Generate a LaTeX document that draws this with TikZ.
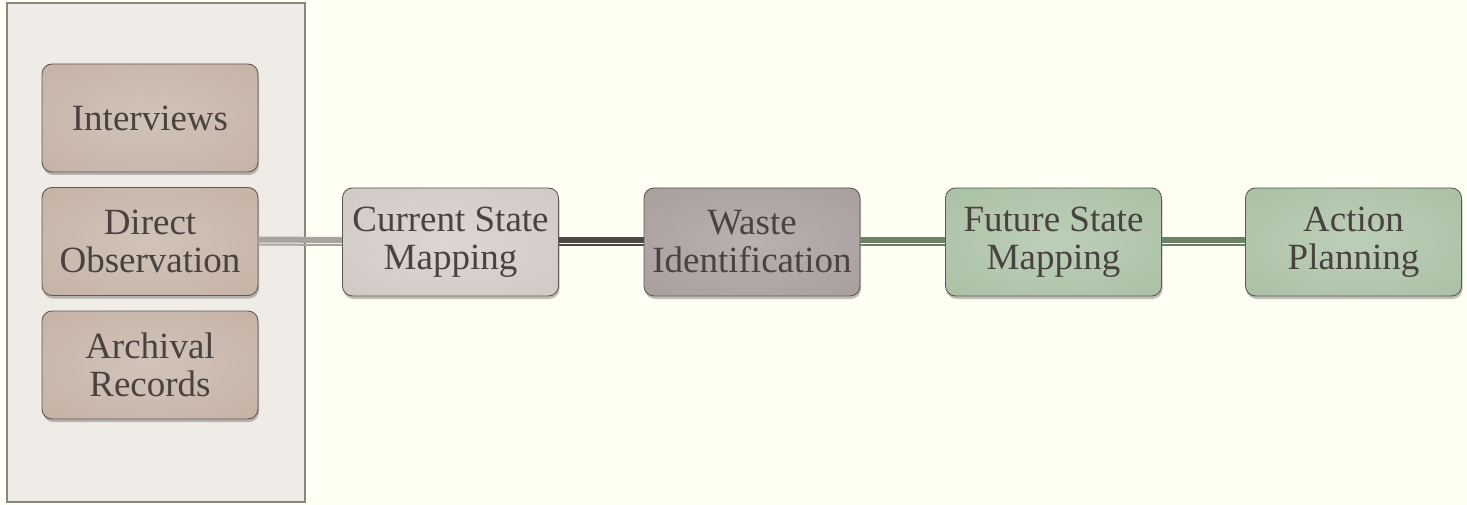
\documentclass[tikz,border=0pt]{standalone}
\usepackage{fontspec}
\setmainfont{Liberation Serif}
\usetikzlibrary{shadows}
\definecolor{pagebg}{HTML}{FFFFF4}
\definecolor{panelfill}{HTML}{EFECE7}
\definecolor{panelline}{HTML}{8A8682}
\definecolor{boxline}{HTML}{5F5854}
\definecolor{txt}{HTML}{4A423E}
\definecolor{brownout}{HTML}{C1AC9E}
\definecolor{brownin}{HTML}{D1C3B9}
\definecolor{greyout}{HTML}{CBC3BF}
\definecolor{greyin}{HTML}{DCD6D3}
\definecolor{mauveout}{HTML}{A19896}
\definecolor{mauvein}{HTML}{B8B1AF}
\definecolor{greenout}{HTML}{A3BB9D}
\definecolor{greenin}{HTML}{BCCFB8}
\definecolor{linkgrey}{HTML}{A8A39E}
\definecolor{linkdark}{HTML}{4F4743}
\definecolor{linkgreen}{HTML}{6B8266}
% soft centre-lit fills, fading out to the box edges
\pgfdeclareradialshading{brownfill}{\pgfpoint{0bp}{0bp}}{color(0bp)=(brownin); color(50bp)=(brownout)}
\pgfdeclareradialshading{greyfill}{\pgfpoint{0bp}{0bp}}{color(0bp)=(greyin); color(50bp)=(greyout)}
\pgfdeclareradialshading{mauvefill}{\pgfpoint{0bp}{0bp}}{color(0bp)=(mauvein); color(50bp)=(mauveout)}
\pgfdeclareradialshading{greenfill}{\pgfpoint{0bp}{0bp}}{color(0bp)=(greenin); color(50bp)=(greenout)}
\tikzset{
  stagebox/.style={draw=boxline, line width=0.9pt, rounded corners=10pt,
    minimum width=216pt, minimum height=108pt, inner sep=2pt,
    align=center, text=txt,
    font=\fontsize{37}{38}\selectfont,
    drop shadow={shadow xshift=1pt, shadow yshift=-3pt, opacity=0.35, fill=black!70}},
  brownbox/.style={stagebox, shading=brownfill},
  greybox/.style={stagebox, shading=greyfill},
  mauvebox/.style={stagebox, shading=mauvefill},
  greenbox/.style={stagebox, shading=greenfill},
  linkband/.style={line width=6pt},
  linkrule/.style={line width=2pt},
}
\begin{document}
\begin{tikzpicture}[x=1pt, y=-1pt]
  \fill[pagebg] (0,0) rectangle (1467,505);
  \useasboundingbox (0,0) rectangle (1467,505);

  % data-collection panel
  \draw[fill=panelfill, draw=panelline, line width=1.5pt] (7,3) rectangle (305,502);

  % sources
  \node[brownbox] (intv) at (150,118) {Interviews};
  \node[brownbox] (obs)  at (150,241.5) {Direct\\Observation};
  \node[brownbox] (arch) at (150,365) {Archival\\Records};

  % stages
  \node[greybox]  (cur)  at (450.5,242) {Current State\\Mapping};
  \node[mauvebox] (waste) at (752,242) {Waste\\Identification};
  \node[greenbox] (fut)  at (1053.5,242) {Future State\\Mapping};
  \node[greenbox] (act)  at (1353.5,242) {Action\\Planning};

  % connectors: a heavy band with a thin rule beneath it
  \foreach \a/\b/\c in {obs/cur/linkgrey, cur/waste/linkdark, waste/fut/linkgreen, fut/act/linkgreen}{
    \draw[linkband, draw=\c] ([yshift=2pt]\a.east) -- ([yshift=2pt]\b.west);
    \draw[linkrule, draw=\c] ([yshift=-3pt]\a.east) -- ([yshift=-3pt]\b.west);
  }
\end{tikzpicture}
\end{document}
